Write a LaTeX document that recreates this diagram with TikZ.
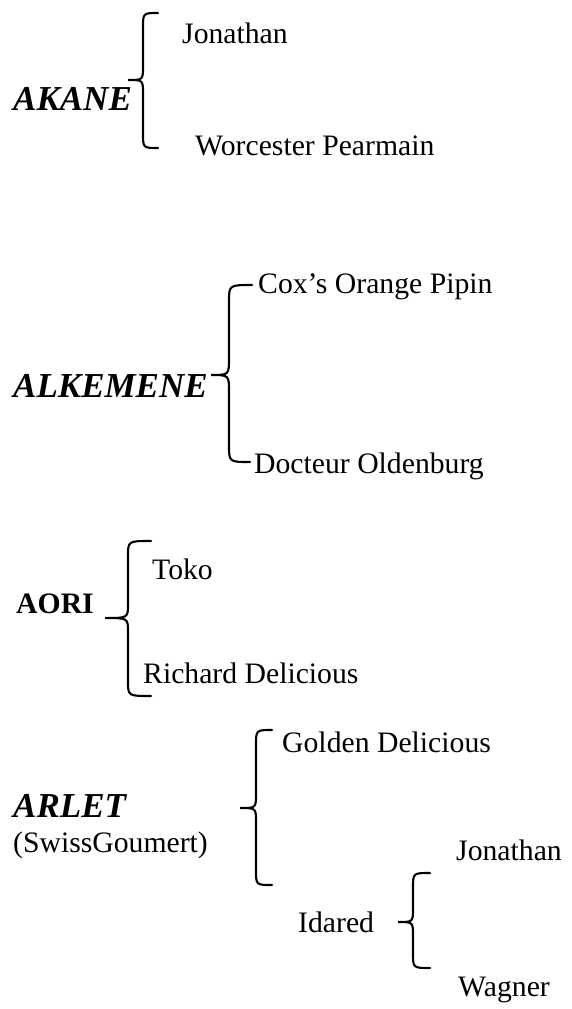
\documentclass[tikz,border=0pt]{standalone}
\usepackage{fontspec}
\setmainfont{Liberation Serif}
\begin{document}
\begin{tikzpicture}[x=1pt,y=-1pt,
  lbl/.style={inner sep=0pt, anchor=base west, font=\fontsize{29.7}{34}\selectfont},
  head/.style={inner sep=0pt, anchor=base west, font=\fontsize{35}{40}\selectfont\bfseries\itshape},
  headb/.style={inner sep=0pt, anchor=base west, font=\fontsize{29.7}{34}\selectfont\bfseries},
  bracestyle/.style={line width=2.1pt, line cap=round}]
\useasboundingbox (0,0) rectangle (572,1009);

% AKANE
\node[head] (akane) at (13,110) {AKANE};
\node[lbl] (jon1) at (182,43) {Jonathan};
\node[lbl] (worc) at (195,155) {Worcester Pearmain};
\draw[bracestyle] (158,13) .. controls (143,13) .. (143,28) -- (143,66)
  .. controls (143,80) .. (128,80) .. controls (143,80) .. (143,94)
  -- (143,133) .. controls (143,148) .. (158,148);

% ALKEMENE
\node[head] (alk) at (13,397) {ALKEMENE};
\node[lbl] (cox) at (258,293) {Cox’s Orange Pipin};
\node[lbl] (doc) at (254,473) {Docteur Oldenburg};
\draw[bracestyle] (252,285) .. controls (229,285) .. (229,302) -- (229,358)
  .. controls (229,375) .. (211,375) .. controls (229,375) .. (229,392)
  -- (229,445) .. controls (229,462) .. (250,462);

% AORI
\node[headb] (aori) at (16,613) {AORI};
\node[lbl] (toko) at (152,579) {Toko};
\node[lbl] (rich) at (143,683) {Richard Delicious};
\draw[bracestyle] (151,541) .. controls (128,541) .. (128,556) -- (128,604)
  .. controls (128,618) .. (105,618) .. controls (128,618) .. (128,632)
  -- (128,681) .. controls (128,696) .. (151,696);

% ARLET
\node[head] (arlet) at (13,817) {ARLET};
\node[lbl] (swiss) at (13,852) {(SwissGoumert)};
\node[lbl] (gold) at (282,752) {Golden Delicious};
\draw[bracestyle] (272,730) .. controls (256,730) .. (256,745) -- (256,794)
  .. controls (256,808) .. (240,808) .. controls (256,808) .. (256,822)
  -- (256,870) .. controls (256,885) .. (272,885);

% Idared
\node[lbl] (idared) at (298,932) {Idared};
\node[lbl] (jon2) at (456,860) {Jonathan};
\node[lbl] (wag) at (458,996) {Wagner};
\draw[bracestyle] (430,873) .. controls (413,873) .. (413,888) -- (413,908)
  .. controls (413,922) .. (398,922) .. controls (413,922) .. (413,936)
  -- (413,953) .. controls (413,968) .. (430,968);
\end{tikzpicture}
\end{document}
